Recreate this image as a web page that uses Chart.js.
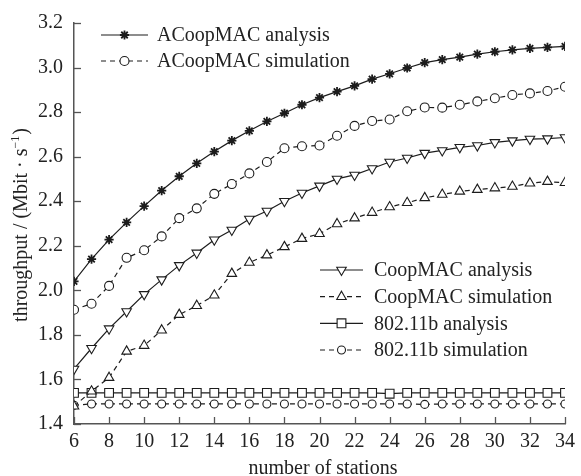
<!DOCTYPE html>
<html><head><meta charset="utf-8">
<script src="https://cdn.jsdelivr.net/npm/chart.js@4"></script>
<style>html,body{margin:0;padding:0;background:#fff}#wrap{width:581px;height:476px}</style>
</head><body><div id="wrap"><canvas id="c" width="581" height="476"></canvas></div>
<script>
// ---- data ----
const stations = [6,7,8,9,10,11,12,13,14,15,16,17,18,19,20,21,22,23,24,25,26,27,28,29,30,31,32,33,34];
const acoopAnalysis = [2.04,2.14,2.228,2.305,2.378,2.448,2.512,2.570,2.623,2.672,2.716,2.758,2.795,2.833,2.865,2.892,2.918,2.948,2.972,2.998,3.022,3.036,3.047,3.060,3.071,3.079,3.086,3.091,3.095];
const acoopSim = [1.913,1.94,2.02,2.146,2.18,2.242,2.324,2.368,2.433,2.477,2.525,2.576,2.638,2.647,2.65,2.694,2.738,2.76,2.767,2.804,2.821,2.82,2.833,2.848,2.862,2.877,2.884,2.895,2.914];
const coopAnalysis = [1.647,1.74,1.828,1.905,1.982,2.048,2.112,2.168,2.227,2.271,2.32,2.356,2.4,2.437,2.469,2.5,2.518,2.547,2.576,2.594,2.616,2.628,2.642,2.65,2.664,2.672,2.679,2.681,2.686];
const coopSim = [1.48,1.547,1.608,1.726,1.752,1.821,1.891,1.931,1.978,2.075,2.125,2.158,2.195,2.232,2.254,2.298,2.324,2.349,2.374,2.393,2.415,2.43,2.444,2.452,2.459,2.466,2.481,2.488,2.483];
const dot11bAnalysis = [1.54,1.54,1.54,1.54,1.54,1.54,1.54,1.54,1.54,1.54,1.54,1.54,1.54,1.54,1.54,1.54,1.54,1.54,1.536,1.54,1.54,1.54,1.54,1.54,1.54,1.54,1.54,1.54,1.54];
const dot11bSim = [1.484,1.49,1.49,1.49,1.49,1.49,1.49,1.49,1.49,1.49,1.49,1.49,1.49,1.49,1.49,1.49,1.49,1.49,1.49,1.49,1.488,1.49,1.49,1.49,1.49,1.49,1.49,1.49,1.49];
const seriesLabels = ['ACoopMAC analysis','ACoopMAC simulation','CoopMAC analysis','CoopMAC simulation','802.11b analysis','802.11b simulation'];
const yTicks = [1.4,1.6,1.8,2.0,2.2,2.4,2.6,2.8,3.0,3.2];
const xTicks = [6,8,10,12,14,16,18,20,22,24,26,28,30,32,34];
const xTitle = 'number of stations';
const yTitleMain = 'throughput / (Mbit · s';
const yTitleSup = '−1';
const yTitleEnd = ')';

// ---- style ----
const FONT = '"Liberation Serif", "Times New Roman", serif';
Chart.defaults.font.family = FONT;
Chart.defaults.font.size = 20;
Chart.defaults.color = '#222';
const INK = '#1c1c1c';
const AXIS = '#555';
const DASH = [5,4];

function mk(i, data, style, radius, dashed, rot, pbw) {
  return {
    label: seriesLabels[i],
    data: stations.map((x, k) => ({x: x, y: data[k]})),
    borderColor: INK, borderWidth: 1.2, borderDash: dashed ? DASH : [],
    pointStyle: style, pointRadius: radius, pointRotation: rot || 0,
    pointBorderColor: INK, pointBackgroundColor: '#fff', pointBorderWidth: pbw || 1.1,
    pointHoverRadius: radius, tension: 0, fill: false
  };
}
const datasets = [
  mk(0, acoopAnalysis, 'star', 4.6, false, 0, 1.8),
  mk(1, acoopSim, 'circle', 4.5, true),
  mk(2, coopAnalysis, 'triangle', 5.5, false, 180),
  mk(3, coopSim, 'triangle', 5.5, true),
  mk(4, dot11bAnalysis, 'rect', 6.2, false),
  mk(5, dot11bSim, 'circle', 4, true)
];

const legendLayout = [
  {idx:0, y:35, x0:101, x1:148, tx:157},
  {idx:1, y:61, x0:101, x1:148, tx:157},
  {idx:2, y:270, x0:320, x1:363, tx:374},
  {idx:3, y:296.7, x0:320, x1:363, tx:374},
  {idx:4, y:323.3, x0:320, x1:363, tx:374},
  {idx:5, y:350, x0:320, x1:363, tx:374}
];

const decor = {
  id: 'decor',
  afterDraw(chart) {
    const ctx = chart.ctx, xs = chart.scales.x, ys = chart.scales.y;
    const ca = chart.chartArea;
    ctx.save();
    // inward ticks
    ctx.strokeStyle = AXIS; ctx.lineWidth = 1.3;
    yTicks.forEach(v => {
      const py = Math.round(ys.getPixelForValue(v)) + 0.5;
      ctx.beginPath(); ctx.moveTo(ca.left, py); ctx.lineTo(ca.left + 7, py); ctx.stroke();
    });
    xTicks.forEach(v => {
      const px = Math.round(xs.getPixelForValue(v)) + 0.5;
      ctx.beginPath(); ctx.moveTo(px, ca.bottom); ctx.lineTo(px, ca.bottom - 7); ctx.stroke();
    });
    // legends
    ctx.font = '20px ' + FONT; ctx.textBaseline = 'middle'; ctx.textAlign = 'left';
    legendLayout.forEach(L => {
      const d = chart.data.datasets[L.idx];
      ctx.strokeStyle = INK; ctx.lineWidth = 1.2; ctx.setLineDash(d.borderDash);
      ctx.beginPath(); ctx.moveTo(L.x0, L.y); ctx.lineTo(L.x1, L.y); ctx.stroke();
      ctx.setLineDash([]);
      ctx.strokeStyle = INK; ctx.fillStyle = '#fff'; ctx.lineWidth = d.pointBorderWidth;
      Chart.helpers.drawPoint(ctx, {pointStyle: d.pointStyle, rotation: d.pointRotation, radius: d.pointRadius, borderWidth: d.pointBorderWidth}, (L.x0 + L.x1) / 2, L.y);
      ctx.fillStyle = '#222';
      ctx.fillText(d.label, L.tx, L.y + 1);
    });
    // x title
    ctx.textAlign = 'center'; ctx.textBaseline = 'alphabetic';
    ctx.fillText(xTitle, 323, 474);
    // y title with superscript
    ctx.translate(27, (ca.top + ca.bottom) / 2 + 2);
    ctx.rotate(-Math.PI / 2);
    ctx.font = '20px ' + FONT;
    const w1 = ctx.measureText(yTitleMain).width;
    ctx.font = '12px ' + FONT;
    const w2 = ctx.measureText(yTitleSup).width;
    ctx.font = '20px ' + FONT;
    const w3 = ctx.measureText(yTitleEnd).width;
    let sx = -(w1 + w2 + w3) / 2;
    ctx.textAlign = 'left';
    ctx.fillText(yTitleMain, sx, 0); sx += w1;
    ctx.font = '12px ' + FONT; ctx.fillText(yTitleSup, sx, -8); sx += w2;
    ctx.font = '20px ' + FONT; ctx.fillText(yTitleEnd, sx + 1, 0);
    ctx.restore();
  }
};

new Chart(document.getElementById('c'), {
  type: 'line',
  data: { datasets: datasets },
  plugins: [decor],
  options: {
    responsive: false, animation: false, devicePixelRatio: 1,
    layout: { padding: { left: 0, right: 13, top: 15, bottom: 0 } },
    plugins: { legend: { display: false }, tooltip: { enabled: false } },
    scales: {
      x: {
        type: 'linear', min: 6, max: 34,
        afterBuildTicks(s) { s.ticks = xTicks.map(v => ({value: v})); },
        afterFit(s) { s.height = 52; },
        grid: { display: false, drawTicks: false },
        border: { display: true, color: AXIS, width: 1.5 },
        ticks: { padding: 6, color: '#222', font: { size: 20 }, maxRotation: 0, autoSkip: false,
                 callback: v => String(v) }
      },
      y: {
        type: 'linear', min: 1.4, max: 3.2,
        afterBuildTicks(s) { s.ticks = yTicks.map(v => ({value: v})); },
        afterFit(s) { s.width = 74; },
        grid: { display: false, drawTicks: false },
        border: { display: true, color: AXIS, width: 1.5 },
        ticks: { padding: 11, color: '#222', font: { size: 20 }, callback: v => v.toFixed(1) }
      }
    }
  }
});
</script></body></html>
